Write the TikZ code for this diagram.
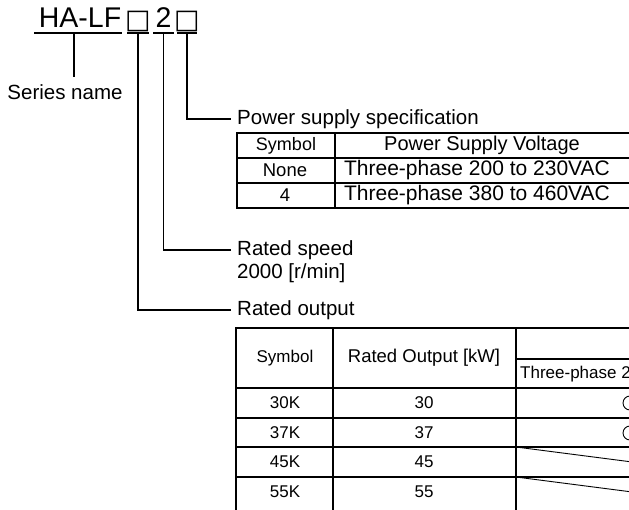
\documentclass[tikz,border=0pt]{standalone}
\usepackage{fontspec}
\setmainfont{Liberation Sans}
\newfontfamily\boxfont{DejaVu Sans}
\usetikzlibrary{positioning}

\begin{document}
\begin{tikzpicture}[
    x=1pt, y=-1pt,
    every node/.style={inner sep=0pt},
    model/.style={font=\fontsize{28.5}{30}\selectfont, anchor=base},
    blank/.style={font=\boxfont\fontsize{27}{30}\selectfont, anchor=base},
    tag/.style={font=\fontsize{20.5}{21}\selectfont, anchor=west, inner xsep=6pt},
    cell/.style={font=\fontsize{17}{19}\selectfont},
    big/.style={font=\fontsize{21}{22}\selectfont},
    conn/.style={line width=1.6pt},
    grid/.style={line width=1.2pt}
]
    \useasboundingbox (0,0) rectangle (629,510);
    \clip (0,0) rectangle (629,510);

    % model code
    \node[model] (series) at (80,28) {HA-LF};
    \node[blank] (output) at (138,29) {□};
    \node[model] (speed) at (163.5,28) {2};
    \node[blank] (supply) at (187,29) {□};
    \draw[conn] (34,33) -- (122,33);
    \draw[conn] (127,33) -- (149,33);
    \draw[conn] (153,33) -- (174,33);
    \draw[conn] (177,33) -- (197,33);
    \coordinate (u0) at (74,33);
    \coordinate (u1) at (138,33);
    \coordinate (u2) at (163.5,33);
    \coordinate (u3) at (187,33);

    % labels
    \node[font=\fontsize{20.5}{21}\selectfont] (sname) at (65,92) {Series name};
    \node[tag] (power) at (231,119) {Power supply specification};
    \node[tag] (rspeed) at (231,250) {Rated speed};
    \node[tag, below=4pt of rspeed.south west, anchor=north west] (rpm) {2000 [r/min]};
    \node[tag] (routput) at (231,310) {Rated output};

    \draw[conn] (u0) -- (u0 |- 0,77);
    \draw[conn] (u3) |- (power.west);
    \draw[conn] (u2) |- (rspeed.west);
    \draw[conn] (u1) |- (routput.west);

    % power supply table
    \draw[grid] (640,133) -- (237,133) -- (237,208) -- (640,208);
    \draw[grid] (237,158) -- (640,158);
    \draw[grid] (237,183) -- (640,183);
    \draw[grid] (335,133) -- (335,208);
    \node[font=\fontsize{18}{20}\selectfont] (ps-sym) at (286,145.5) {Symbol};
    \node[font=\fontsize{20}{22}\selectfont] (ps-volt) at (482,145.5) {Power Supply Voltage};
    \node[font=\fontsize{18.5}{22}\selectfont] (ps-none) at (285,170.5) {None};
    \node[big] (ps-low) at (477,170.5) {Three-phase 200 to 230VAC};
    \node[font=\fontsize{18.5}{22}\selectfont] (ps-four) at (285,195.5) {4};
    \node[big] (ps-high) at (477,195.5) {Three-phase 380 to 460VAC};

    % rated output table
    \draw[grid] (640,328) -- (236,328) -- (236,520);
    \draw[grid] (333,328) -- (333,520);
    \draw[grid] (516,328) -- (516,520);
    \draw[grid] (516,359) -- (640,359);
    \draw[grid] (236,388) -- (640,388);
    \draw[grid] (236,418) -- (640,418);
    \draw[grid] (236,447) -- (640,447);
    \draw[line width=1.8pt] (236,477) -- (640,477);
    \node[cell] (ro-sym) at (285,358) {Symbol};
    \node[font=\fontsize{18.5}{20}\selectfont] (ro-kw) at (424,358) {Rated Output [kW]};
    \node[cell, anchor=west] (ro-three) at (520,374) {Three-phase 2};
    \foreach \s/\v [count=\i] in {30K/30,37K/37,45K/45,55K/55}
        \node[cell] (k\v) at (285,{373.5+29.5*\i}) {\s}
            node[cell] (o\v) at (424,{373.5+29.5*\i}) {\v};
    \draw[line width=0.9pt] (630,403) circle (7);
    \draw[line width=0.9pt] (630,433) circle (7);
    \draw[line width=0.9pt] (516,447) -- (640,463);
    \draw[line width=0.9pt] (516,477) -- (640,493);
\end{tikzpicture}
\end{document}
